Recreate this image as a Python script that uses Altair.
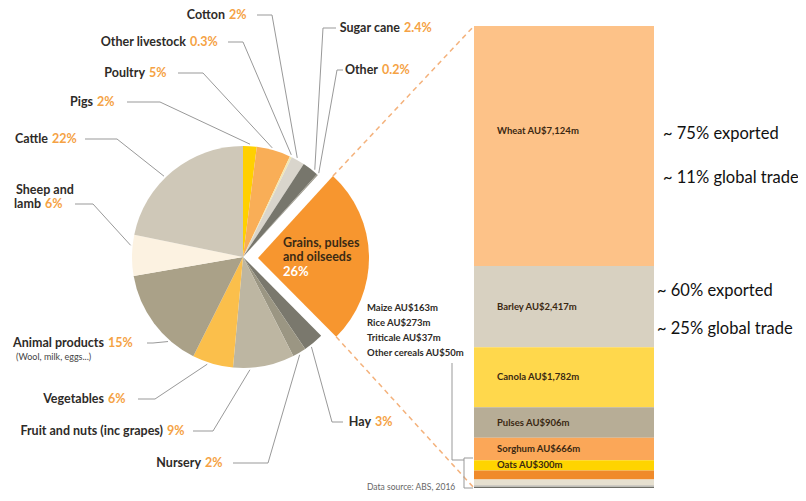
import math
import altair as alt
import pandas as pd

# ---------------- data ----------------
pie_categories = ["Pigs", "Poultry", "Other livestock", "Cotton", "Sugar cane", "Other",
                  "Grains, pulses and oilseeds", "Hay", "Nursery",
                  "Fruit and nuts (inc grapes)", "Vegetables", "Animal products",
                  "Sheep and lamb", "Cattle"]
pie_shares = [2, 5, 0.3, 2, 2.4, 0.2, 26, 3, 2, 9, 6, 15, 6, 22]

grain_crops = ["Wheat", "Barley", "Canola", "Pulses", "Sorghum", "Oats",
               "Rice", "Maize", "Other cereals", "Triticale"]
grain_values = [7124, 2417, 1782, 906, 666, 300, 273, 163, 50, 37]

bar_notes = ["~ 75% exported", "~ 11% global trade", "~ 60% exported", "~ 25% global trade"]
animal_note = "(Wool, milk, eggs...)"
source_note = "Data source: ABS, 2016"
outside_crops = ["Maize", "Rice", "Triticale", "Other cereals"]

# ---------------- styles ----------------
pie_colors = ["#FFD000", "#F9AE57", "#F3E7B0", "#D9D5CC", "#77766C", "#9A978A",
              "#F7962F", "#7A786D", "#9B9683", "#BDB6A2", "#FBBF4B", "#AAA188",
              "#FCF2E1", "#CFC8B8"]
bar_colors = ["#FDC288", "#D8D1C1", "#FFD84C", "#B7AD96", "#FBA758", "#FFD400",
              "#F08A2A", "#E6E0D0", "#CECBC3", "#6E6E67"]
DARK = "#2E2B28"
PCT = "#F5A244"
LINE = "#999999"
DASH = "#F4B27C"
LABEL_FONT = "Lato"
NOTE_FONT = "Lato"

# ---------------- layout (page pixels) ----------------
W, H = 790, 485
M = 8
PIE_CX, PIE_CY, PIE_R = 243, 257, 111
EXPLODE_DX, EXPLODE_DY = 15, 1
BAR_LEFT, BAR_RIGHT, BAR_TOP, BAR_BOTTOM = 474, 654, 26, 488
BAR_TEXT_X = 497
GAP = 4
# per pie category: pct text x, text y, leader start x, elbow x, anchor fraction in slice
label_layout = {
    "Pigs": (97, 102, 127, 160, 0.5),
    "Poultry": (149, 73, 178, 203, 0.44),
    "Other livestock": (190, 42, 228, 243, 0.3),
    "Cotton": (229, 15, 257, 272, 0.37),
    "Sugar cane": (404, 28, 336, 323, 0.73),
    "Other": (382, 70, 343, 337, 0.5),
    "Hay": (375, 422, 343, 332, 0.7),
    "Nursery": (205, 463, 233, 268, 0.56),
    "Fruit and nuts (inc grapes)": (167, 431, 193, 213, 0.73),
    "Vegetables": (108, 399, 138, 155, 0.62),
    "Animal products": (108, 343, 147, 153, 0.28),
    "Sheep and lamb": (45, 204, 75, 93, 0.74),
    "Cattle": (52, 139, 85, 117, 0.435),
}
WRAPPED = {"Sheep and lamb": (16, 190)}
GRAIN_TEXT = (283, 243, 14)
outside_y = [308, 323, 338, 353]
OUTSIDE_X = 367
note_pos = [(663, 134), (663, 178), (657, 291), (657, 329)]
animal_note_pos = (16, 357)
source_pos = (367, 487)
bracket_lines = [[(452, 363), (452, 460), (464, 460)],
                 [(473, 458), (464, 458), (464, 488), (473, 488)]]

XS = alt.Scale(domain=[M, M + W], range=[0, W], nice=False, zero=False)
YS = alt.Scale(domain=[M, M + H], range=[0, H], nice=False, zero=False)

# ---------------- pie ----------------
total = sum(pie_shares)
grain_name = pie_categories[6]
rows, cum = [], 0.0
for i, (c, s, col) in enumerate(zip(pie_categories, pie_shares, pie_colors)):
    a0 = cum / total * 2 * math.pi
    cum += s
    a1 = cum / total * 2 * math.pi
    rows.append(dict(cat=c, share=s, idx=i, color=col, a0=a0, a1=a1))
pie_df = pd.DataFrame(rows)

pie_base = alt.Chart(pie_df).encode(
    theta=alt.Theta("share:Q", stack=True),
    order=alt.Order("idx:Q"),
    color=alt.Color("color:N", scale=None),
)
pie_main = pie_base.mark_arc(outerRadius=PIE_R, x=PIE_CX - M, y=PIE_CY - M).encode(
    opacity=alt.condition(alt.datum.cat == grain_name, alt.value(0), alt.value(1)))
pie_grain = pie_base.mark_arc(outerRadius=PIE_R, x=PIE_CX + EXPLODE_DX - M,
                              y=PIE_CY + EXPLODE_DY - M).encode(
    opacity=alt.condition(alt.datum.cat == grain_name, alt.value(1), alt.value(0)))

# leader lines
lead_rows = []
name_rows, pct_rows, left_rows = [], [], []
for r in rows:
    c = r["cat"]
    if c not in label_layout:
        continue
    px, ty, x0, x1, frac = label_layout[c]
    ang = r["a0"] + frac * (r["a1"] - r["a0"])
    ex = PIE_CX + (PIE_R + 2) * math.sin(ang)
    ey = PIE_CY - (PIE_R + 2) * math.cos(ang)
    for k, (xx, yy) in enumerate([(x0, ty), (x1, ty), (ex, ey)]):
        lead_rows.append(dict(id=c, o=k, x=xx, y=yy))
    pct_rows.append(dict(x=px, y=ty, t=f"{r['share']:g}%"))
    if c in WRAPPED:
        first, last = c.rsplit(" ", 1)
        wx, wy = WRAPPED[c]
        left_rows.append(dict(x=wx, y=wy, t=first))
        name_rows.append(dict(x=px - GAP, y=ty, t=last))
    else:
        name_rows.append(dict(x=px - GAP, y=ty, t=c))

def lines(df, color, width=1, dash=None):
    kw = dict(color=color, strokeWidth=width)
    if dash:
        kw["strokeDash"] = dash
    return alt.Chart(df).mark_line(**kw).encode(
        x=alt.X("x:Q", scale=XS, axis=None),
        y=alt.Y("y:Q", scale=YS, axis=None),
        detail="id:N", order="o:Q")

def texts(df, color, size, weight="normal", align="left", font=LABEL_FONT):
    return alt.Chart(pd.DataFrame(df)).mark_text(
        color=color, fontSize=size, fontWeight=weight, align=align,
        baseline="middle", font=font).encode(
        x=alt.X("x:Q", scale=XS, axis=None),
        y=alt.Y("y:Q", scale=YS, axis=None),
        text="t:N")

leaders = lines(pd.DataFrame(lead_rows), LINE, 1)

# grains label inside exploded slice
g_first, g_last = grain_name.split(" and ")
gx, gy, gstep = GRAIN_TEXT
grain_txt = texts([dict(x=gx, y=gy, t=g_first), dict(x=gx, y=gy + gstep, t="and " + g_last)],
                  "#3B2A14", 12.5, "bold")
grain_pct = texts([dict(x=gx, y=gy + 2 * gstep + 1, t=f"{pie_shares[6]:g}%")], "white", 13, "bold")

# dashed connectors from exploded slice to bar
gr = rows[6]
gcx, gcy = PIE_CX + EXPLODE_DX, PIE_CY + EXPLODE_DY
p_top = (gcx + PIE_R * math.sin(gr["a0"]), gcy - PIE_R * math.cos(gr["a0"]))
p_bot = (gcx + PIE_R * math.sin(gr["a1"]), gcy - PIE_R * math.cos(gr["a1"]))
dash_df = pd.DataFrame([
    dict(id="top", o=0, x=p_top[0], y=p_top[1]), dict(id="top", o=1, x=BAR_LEFT, y=BAR_TOP),
    dict(id="bot", o=0, x=p_bot[0], y=p_bot[1]), dict(id="bot", o=1, x=BAR_LEFT, y=BAR_BOTTOM),
])
dashes = lines(dash_df, DASH, 1.5, [5, 4])

br_rows = []
for j, pl in enumerate(bracket_lines):
    for k, (xx, yy) in enumerate(pl):
        br_rows.append(dict(id=f"b{j}", o=k, x=xx, y=yy))
bracket = lines(pd.DataFrame(br_rows), "#999999", 1)

# ---------------- stacked bar ----------------
bar_df = pd.DataFrame(dict(crop=grain_crops, value=grain_values,
                           idx=list(range(len(grain_crops))), color=bar_colors))
bar_df["label"] = [f"{c} AU${v:,}m" for c, v in zip(grain_crops, grain_values)]
BS = alt.Scale(domain=[0, sum(grain_values)], range=[BAR_TOP - M, BAR_BOTTOM - M],
               nice=False, zero=False)
bar_base = alt.Chart(bar_df).transform_stack(
    stack="value", groupby=[], as_=["v0", "v1"],
    sort=[alt.SortField("idx", order="ascending")])
bars = bar_base.mark_rect().encode(
    x=alt.value(BAR_LEFT - M), x2=alt.value(BAR_RIGHT - M),
    y=alt.Y("v0:Q", scale=BS, axis=None), y2="v1:Q",
    color=alt.Color("color:N", scale=None))
bar_lab_base = bar_base.transform_calculate(mid="(datum.v0 + datum.v1) / 2")
bar_text_kw = dict(color="#3A2812", fontSize=9.5, fontWeight="bold", align="left",
                   baseline="middle", font=LABEL_FONT)
bar_labels = bar_lab_base.transform_filter("datum.idx >= 1 && datum.idx <= 5").mark_text(
    **bar_text_kw).encode(x=alt.value(BAR_TEXT_X - M),
                          y=alt.Y("mid:Q", scale=BS, axis=None), text="label:N")
wheat_label = bar_lab_base.transform_filter("datum.idx == 0").mark_text(
    dy=-15, **bar_text_kw).encode(x=alt.value(BAR_TEXT_X - M),
                                  y=alt.Y("mid:Q", scale=BS, axis=None), text="label:N")

out_rows = []
for name, yy in zip(outside_crops, outside_y):
    v = grain_values[grain_crops.index(name)]
    out_rows.append(dict(x=OUTSIDE_X, y=yy, t=f"{name} AU${v:,}m"))
outside_txt = texts(out_rows, "#2E2A26", 9.5, "bold")

notes_txt = texts([dict(x=x, y=y, t=t) for (x, y), t in zip(note_pos, bar_notes)],
                  "#111111", 16.5, "normal", font=NOTE_FONT)

# ---------------- labels ----------------
names = texts(name_rows, DARK, 12.5, "bold", "right")
wrapped = texts(left_rows, DARK, 12.5, "bold", "left")
pcts = texts(pct_rows, PCT, 12.5, "bold", "left")
anote = texts([dict(x=animal_note_pos[0], y=animal_note_pos[1], t=animal_note)], "#444444", 9)
src = texts([dict(x=source_pos[0], y=source_pos[1], t=source_note)], "#666666", 8.5)

chart = alt.layer(
    leaders, dashes, bracket, pie_main, pie_grain, grain_txt, grain_pct,
    bars, bar_labels, wheat_label, outside_txt, notes_txt,
    names, wrapped, pcts, anote, src,
).resolve_scale(x="independent", y="independent").properties(
    width=W, height=H, autosize="none", padding=0
).configure_view(stroke=None)

chart.save("out.html", embed_options={"renderer": "svg", "actions": False})
